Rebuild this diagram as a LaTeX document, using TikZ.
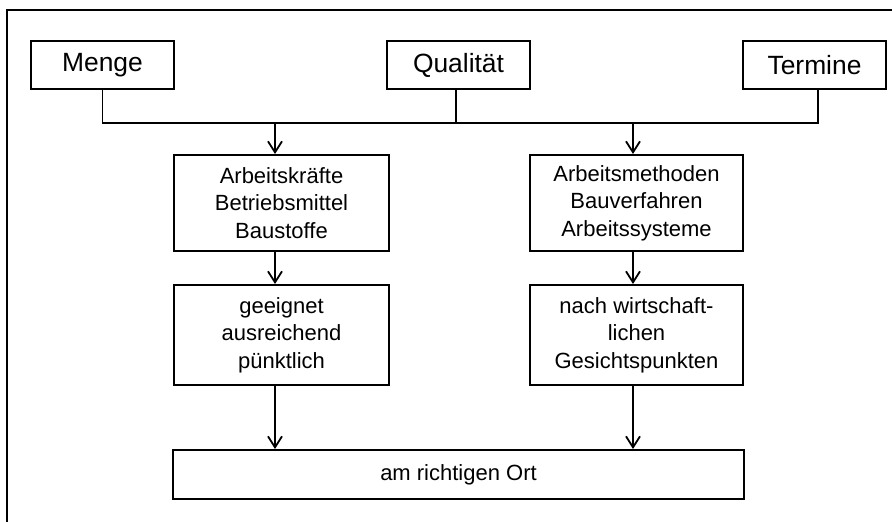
\documentclass[tikz,border=0pt]{standalone}
\usepackage{fontspec}
\setmainfont{Liberation Sans}
\usetikzlibrary{arrows.meta}
\begin{document}
\begin{tikzpicture}[x=1pt,y=-1pt,
  box/.style={draw, line width=2pt, rectangle, inner sep=0pt, align=center},
  topbox/.style={box, minimum width=143pt, minimum height=48pt,
    font=\fontsize{26.4}{32}\selectfont},
  midbox/.style={box, minimum width=215pt,
    font=\fontsize{22}{27.6}\selectfont},
  link/.style={line width=1.8pt},
  arr/.style={link, -{Straight Barb[length=11pt,width=14pt]}}
]
\useasboundingbox (0,0) rectangle (892,522);

% outer frame (left and top edges)
\draw[line width=1.6pt] (7,522) -- (7,10) -- (892,10);

% goals
\node[topbox] (menge) at (102.5,65) {Menge};
\node[topbox] (qual)  at (458.5,65) {Qualität};
\node[topbox] (term)  at (814.5,65) {Termine};

% resources and methods
\node[midbox, minimum height=96pt] (res) at (281.5,203)
  {Arbeitskräfte\\Betriebsmittel\\Baustoffe};
\node[midbox, minimum height=96pt, minimum width=213pt] (meth) at (636.5,203)
  {Arbeitsmethoden\\Bauverfahren\\Arbeitssysteme};

% requirements
\node[midbox, minimum height=100pt] (req) at (281.5,335)
  {geeignet\\ausreichend\\pünktlich};
\node[midbox, minimum height=100pt, minimum width=213pt] (econ) at (636.5,335)
  {nach wirtschaft-\\lichen\\Gesichtspunkten};

% result
\node[box, minimum width=571pt, minimum height=49pt,
  font=\fontsize{22}{27.6}\selectfont] (place) at (458.5,474.5) {am richtigen Ort};

% collecting bar and lanes
\coordinate (bar) at (0,122.7);
\coordinate (laneL) at (275,0);
\coordinate (laneR) at (633,0);

\draw[link] (menge.south) |- ([xshift=3.5pt]term.south |- bar)
  -- ([xshift=3.5pt]term.south);
\draw[link] ([xshift=-2.5pt]qual.south) -- ([xshift=-2.5pt]qual.south |- bar);

\draw[arr] (laneL |- bar) -- (laneL |- res.north);
\draw[arr] (laneR |- bar) -- (laneR |- meth.north);
\draw[arr] (laneL |- res.south) -- (laneL |- req.north);
\draw[arr] (laneR |- meth.south) -- (laneR |- econ.north);
\draw[arr] (laneL |- req.south) -- (laneL |- place.north);
\draw[arr] (laneR |- econ.south) -- (laneR |- place.north);
\end{tikzpicture}
\end{document}
